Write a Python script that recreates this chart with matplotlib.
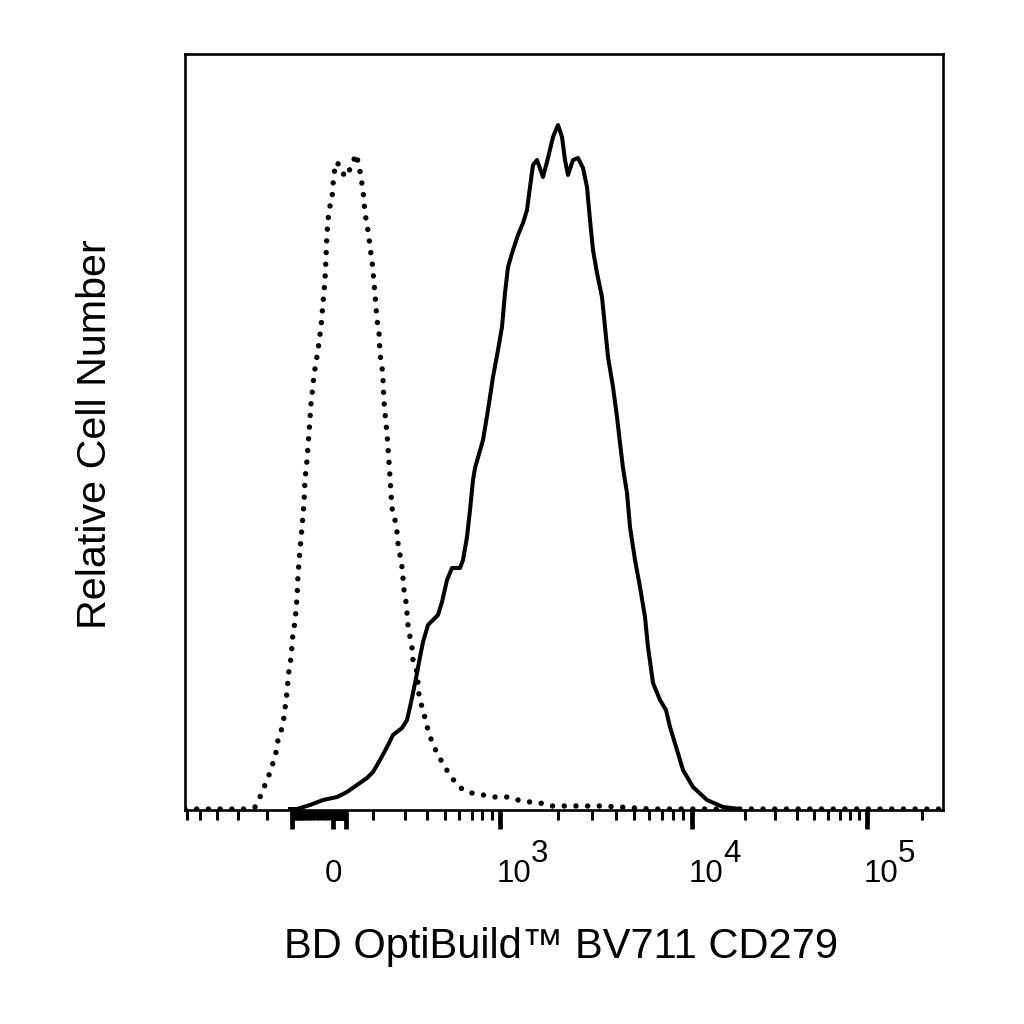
import numpy as np
import matplotlib
matplotlib.use('Agg')
import matplotlib.pyplot as plt

# histogram data, x = display channel (0-758), y = cell count per channel
iso_ch = [0, 60, 70, 75, 80, 84, 88, 91, 93, 97, 99, 102, 104, 106, 108, 110, 112, 113, 115,
          117, 119, 120, 122, 124, 126, 129, 133, 136, 138, 140, 141, 142, 144, 147, 148, 149,
          152, 156, 160, 164, 167, 171, 174, 176, 178, 179, 180, 182, 184, 185, 187, 188, 189,
          191, 192, 194, 195, 197, 198, 199, 200, 202, 204, 207, 210, 212, 213, 215, 217, 218,
          219, 221, 222, 223, 225, 227, 228, 232, 234, 237, 240, 243, 247, 252, 257, 263, 270,
          278, 287, 298, 310, 322, 333, 345, 355, 367, 390, 415, 435, 465, 758]
iso_counts = [0, 0, 2, 12, 24, 34, 46, 57, 69, 81, 92, 117, 139, 151, 176, 187, 211, 234, 259,
              282, 306, 329, 349, 376, 405, 434, 459, 482, 506, 529, 552, 576, 599, 611, 624, 636,
              647, 640, 632, 638, 644, 655, 644, 631, 619, 607, 596, 584, 572, 561, 549, 537, 526,
              502, 489, 477, 455, 442, 431, 407, 396, 375, 347, 301, 289, 277, 266, 254, 242, 231,
              219, 207, 196, 184, 172, 161, 149, 137, 114, 102, 91, 79, 67, 56, 47, 37, 27,
              19, 16, 14, 12, 12, 9, 7, 6, 3, 3, 3, 2, 0, 0]

pd1_ch = [105, 112, 125, 138, 152, 162, 172, 182, 188, 195, 202, 208, 217, 222, 225, 228, 232,
          235, 238, 243, 248, 253, 257, 262, 267, 275, 278, 282, 285, 288, 290, 298, 303, 308,
          313, 317, 320, 323, 328, 333, 338, 342, 345, 348, 352, 358, 363, 368, 373, 377, 380,
          383, 388, 393, 398, 402, 405, 408, 412, 417, 420, 423, 428, 432, 435, 438, 442, 445,
          450, 455, 460, 463, 468, 475, 481, 485, 492, 498, 508, 522, 538, 555]
pd1_counts = [0, 0, 4, 9, 12, 17, 24, 31, 37, 49, 62, 74, 81, 89, 102, 116, 136,
              152, 167, 184, 189, 194, 207, 229, 241, 241, 249, 272, 299, 329, 341, 369, 399, 432,
              459, 482, 516, 542, 559, 574, 586, 599, 622, 644, 649, 632, 651, 672, 684, 672, 649,
              634, 649, 651, 641, 622, 589, 559, 536, 512, 482, 452, 422, 392, 366, 341, 316, 282,
              249, 222, 192, 162, 126, 109, 99, 82, 59, 39, 22, 9, 2, 0]

# biexponential axis calibration (fluorescence value -> channel)
cal_vals = [-600, -200, -100, 0, 100, 200, 1e3, 1e4, 1e5, 262144]
cal_chan = [2, 82, 107, 148, 161, 188, 315, 507, 682, 758]

major_vals = [-100, 0, 100, 1e3, 1e4, 1e5]
minor_vals = ([-600, -500, -400, -300, -200]
              + list(range(-95, 0, 5)) + list(range(5, 100, 5))
              + list(range(200, 1000, 100))
              + [k * 1e3 for k in range(2, 10)]
              + [k * 1e4 for k in range(2, 10)]
              + [2e5])
label_vals = [0, 1e3, 1e4, 1e5]
label_exps = ['', '3', '4', '5']


def to_chan(v):
    s = np.arcsinh(np.asarray(v, dtype=float) / 50)
    return np.interp(s, np.arcsinh(np.array(cal_vals) / 50), cal_chan)


plt.rcParams['font.family'] = ['Liberation Sans', 'DejaVu Sans']

fig = plt.figure(figsize=(10.24, 10.24), dpi=100)
ax = fig.add_axes([185 / 1024, 1 - 810 / 1024, 758 / 1024, 756 / 1024])

ax.plot(iso_ch, iso_counts, color='black', lw=3.9, linestyle=(0, (0.01, 2.15)),
        dash_capstyle='round')
ax.plot(pd1_ch, pd1_counts, color='black', lw=2.9, solid_joinstyle='round')

ax.set_xlim(0, 758)
ax.set_ylim(-1, 755)

ax.set_xticks(to_chan(major_vals))
ax.set_xticks(to_chan(minor_vals), minor=True)
ax.tick_params(axis='x', which='major', direction='out', length=14, width=3.4,
               labelbottom=False)
ax.tick_params(axis='x', which='minor', direction='out', length=7.5, width=2.2)
ax.set_yticks([])
for sp in ax.spines.values():
    sp.set_linewidth(1.9)

# tick labels: "0" centred, "10" with raised exponent
for v, e in zip(label_vals, label_exps):
    c = float(to_chan(v))
    if e == '':
        ax.annotate('0', xy=(c, 0), xycoords=ax.get_xaxis_transform(),
                    xytext=(0, -72), textcoords='offset pixels',
                    ha='center', va='baseline', fontsize=22.5)
    else:
        ax.annotate('10', xy=(c, 0), xycoords=ax.get_xaxis_transform(),
                    xytext=(-3, -72), textcoords='offset pixels',
                    ha='left', va='baseline', fontsize=22.5)
        ax.annotate(e, xy=(c, 0), xycoords=ax.get_xaxis_transform(),
                    xytext=(31, -52), textcoords='offset pixels',
                    ha='left', va='baseline', fontsize=22.5)

fig.text(561 / 1024, 1 - 958 / 1024, 'BD OptiBuild\u2122 BV711 CD279',
         ha='center', va='baseline', fontsize=30)
fig.text(106 / 1024, 1 - 434 / 1024, 'Relative Cell Number', rotation=90,
         rotation_mode='anchor', ha='center', va='baseline', fontsize=29.7)

fig.savefig('out.png', dpi=100, facecolor='white')
